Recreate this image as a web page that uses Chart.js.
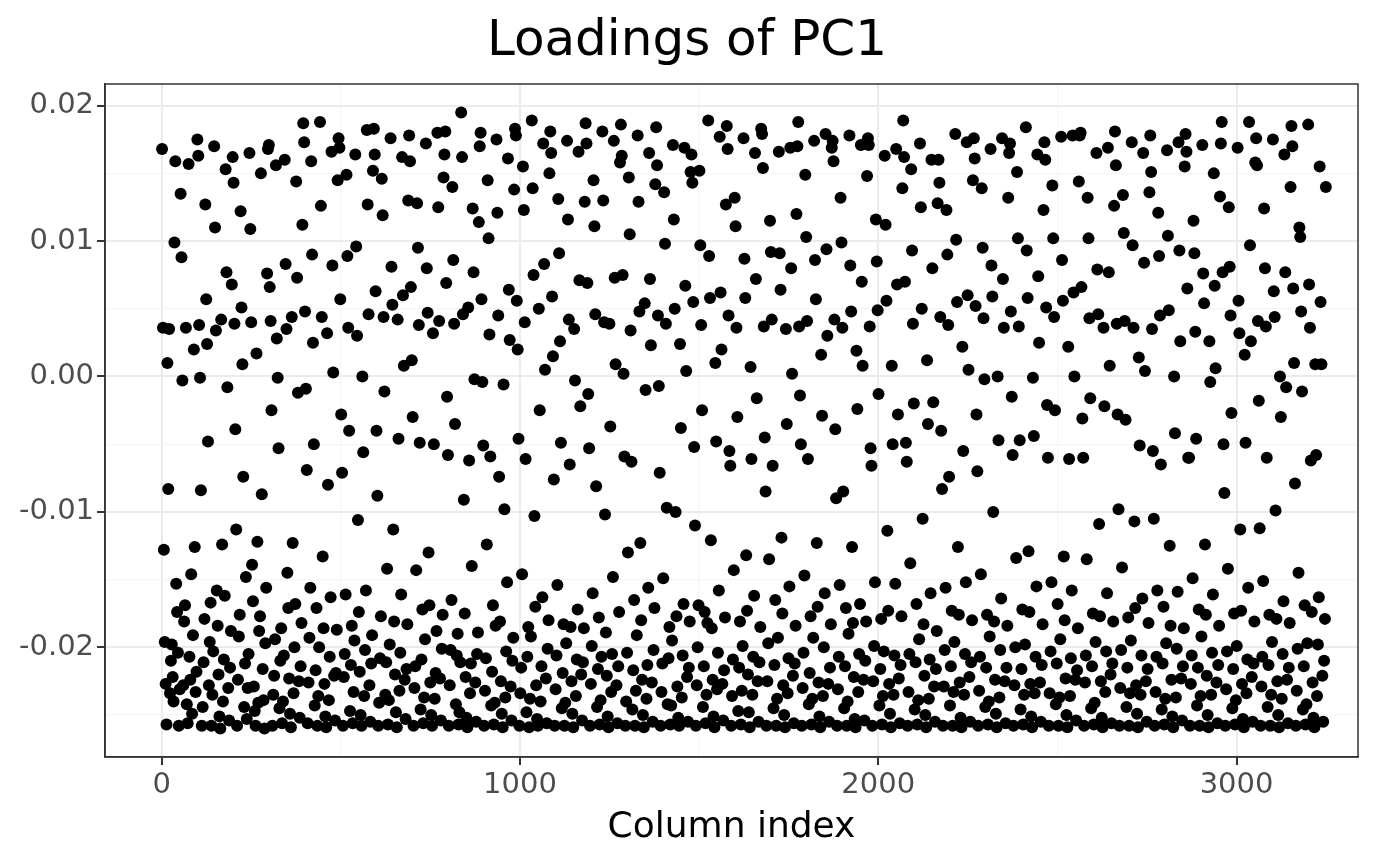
<!DOCTYPE html>
<html><head><meta charset="utf-8">
<script src="https://cdn.jsdelivr.net/npm/chart.js@4"></script>
<style>html,body{margin:0;background:#fff}#w{width:1400px;height:865px}</style>
</head><body><div id="w"><canvas id="c"></canvas></div>
<script>
// Loadings (x1000) read per block of ~98.5 column indices
const binWidth = 98.5;
const loadingsByBlock = [
"16.8 3.6 -12.8 -19.6 -22.7 -25.7 1.0 -8.3 3.5 -23.4 -21.0 -19.8 -22.2 -24.0 9.9 15.9 -15.3 -17.4 -20.4 -25.8 -23.1 13.5 8.8 -0.3 -22.8 -18.1 -16.9 3.6 -24.2 -25.6 15.7 -20.7 -22.4 -14.6 -24.9 -19.1 2.0 -12.6 -23.3 -21.8",
"17.5 16.3 3.8 -0.1 -8.4 -25.8 -24.4 -21.1 -17.9 12.7 5.7 2.4 -4.8 -22.8 -19.6 -16.7 -25.8 -23.5 -20.3 17.0 11.0 3.4 -15.8 -18.4 -22.0 -25.1 -26.0 4.2 -12.4 -24.0 -20.9 -16.2 15.3 7.7 -0.8 -23.0 -25.4 -21.5 -18.8 6.8",
"16.2 14.3 3.9 -3.9 -11.3 -25.8 -22.4 -19.2 -17.6 12.2 5.1 0.9 -7.4 -24.4 -21.2 -14.8 -25.3 -23.0 -20.5 16.5 10.9 4.0 -13.9 -16.6 -22.9 -24.7 -25.8 1.7 -12.2 -24.1 -18.8 -17.7 15.0 -8.7 -21.6 -23.9 -26.0 -19.7 -15.6 7.6",
"16.8 17.1 6.6 4.1 -2.5 -25.8 -23.5 -22.1 -19.4 15.6 2.8 -0.1 -5.3 -24.5 -21.0 -18.6 -25.6 -24.0 -20.6 16.0 8.3 3.5 -14.5 -17.1 -22.3 -24.9 -25.9 4.4 -12.3 -23.4 -20.0 -16.8 14.4 7.3 -1.2 -22.5 -25.2 -21.4 -18.2 11.2",
"18.7 17.3 4.8 -0.9 -6.9 -25.6 -22.6 -19.3 -15.6 15.9 9.0 2.5 -5.0 -24.3 -21.7 -17.1 -25.8 -23.6 -20.0 18.8 12.6 4.4 -13.3 -18.6 -22.7 -25.1 -25.9 3.2 -8.0 -23.9 -20.7 -16.3 16.6 8.2 0.3 -22.1 -25.4 -21.9 -18.7 14.5",
"17.6 16.9 5.7 -2.8 -7.1 -25.8 -22.2 -20.5 -16.1 14.9 8.9 3.6 -4.0 -24.7 -21.3 -18.4 -25.6 -23.3 -19.5 16.4 9.6 3.0 -10.6 -17.4 -21.8 -25.0 -25.8 0.0 -5.6 -23.6 -20.2 -15.8 18.2 12.7 4.6 -22.8 -25.5 -21.2 -19.1 15.2",
"18.3 16.4 6.3 -4.0 -8.8 -25.8 -24.1 -20.8 -17.7 14.6 11.9 4.4 -1.1 -23.5 -21.1 -14.2 -25.7 -23.9 -19.8 17.6 8.1 5.3 -11.3 -18.1 -22.0 -24.8 -25.9 4.2 -4.6 -23.2 -20.4 -16.1 16.2 6.0 0.8 -22.4 -25.3 -21.6 -18.3 13.0",
"17.8 15.9 6.6 1.2 -3.0 -25.8 -23.0 -21.4 -14.3 12.8 9.5 3.8 -4.9 -24.6 -20.9 -17.2 -25.6 -23.7 -19.4 17.2 8.0 4.7 -13.0 -16.9 -22.6 -25.0 -25.8 3.2 -5.0 -23.8 -21.9 -18.8 18.0 12.5 4.1 -22.3 -25.4 -20.1 -17.6 14.7",
"16.4 18.1 6.9 -1.5 -5.8 -25.8 -22.8 -20.2 -16.5 14.0 8.6 3.9 -3.5 -24.2 -20.6 -19.0 -25.7 -24.8 -21.1 19.5 16.2 4.6 -9.1 -17.5 -22.2 -25.2 -25.9 5.1 -6.2 -23.4 -21.2 -14.0 12.4 7.7 -0.2 -22.6 -25.5 -20.5 -18.9 11.4",
"17.0 18.0 5.7 -0.4 -5.1 -25.8 -23.2 -20.8 -12.4 14.5 10.2 3.1 -5.9 -24.3 -21.8 -16.9 -25.7 -24.1 -18.4 17.5 12.1 4.5 -7.4 -18.1 -22.5 -24.9 -25.9 -0.6 -9.8 -23.7 -20.3 -15.2 16.1 6.4 2.7 -22.9 -25.4 -21.0 -19.3 13.8",
"18.3 17.8 5.6 2.0 -4.6 -25.8 -23.4 -21.5 -14.6 15.5 12.3 4.0 -6.1 -24.8 -20.7 -18.5 -25.9 -23.8 -19.2 18.9 13.9 7.5 -10.3 -17.0 -22.8 -25.3 -25.8 5.0 -2.5 -24.0 -21.4 -16.3 17.2 8.3 0.5 -22.3 -25.6 -20.1 -18.0 15.0",
"18.1 16.5 5.9 1.5 -7.6 -25.8 -23.1 -20.6 -15.4 13.1 9.1 2.6 -4.9 -24.5 -21.9 -18.3 -25.8 -24.1 -19.7 17.4 11.6 4.2 -6.5 -18.5 -22.5 -24.9 -25.9 3.5 -0.3 -23.6 -20.9 -17.2 16.6 7.1 -2.2 -22.0 -25.4 -21.1 -18.6 12.9",
"18.7 17.2 6.9 -1.3 -5.3 -25.8 -22.7 -19.9 -16.0 14.5 11.1 4.6 -8.1 -24.4 -21.6 -17.8 -25.7 -23.9 -20.7 18.1 13.0 4.0 -10.2 -18.9 -22.1 -25.1 -25.9 3.9 -3.7 -23.3 -20.5 -14.8 17.4 7.3 0.9 -22.8 -25.6 -21.4 -17.4 15.8",
"18.6 16.3 7.5 0.2 -5.9 -25.8 -24.0 -20.4 -13.0 14.7 10.5 3.4 -6.3 -24.6 -21.7 -16.5 -25.8 -23.2 -19.1 17.8 12.9 4.8 -12.3 -18.0 -22.4 -25.0 -25.9 5.4 -1.0 -23.8 -21.3 -15.6 16.5 7.2 2.3 -22.6 -25.5 -20.2 -17.1 14.2",
"18.4 15.6 4.5 -0.7 -7.1 -25.8 -23.3 -21.2 -14.9 13.6 9.8 3.9 -9.7 -24.2 -20.8 -18.5 -25.7 -24.3 -19.5 17.1 11.6 5.0 -10.0 -17.7 -22.9 -25.2 -25.8 2.4 -3.8 -23.7 -20.6 -16.8 16.9 6.7 0.4 -22.2 -25.5 -21.5 -18.1 15.1",
"16.4 14.3 5.5 -5.2 -11.0 -25.8 -22.8 -20.0 -16.9 15.2 9.7 3.8 -2.5 -24.4 -21.4 -17.4 -25.6 -23.5 -18.2 18.9 8.9 5.8 -12.1 -18.6 -22.4 -25.1 -25.9 1.0 -4.8 -23.1 -20.4 -15.8 17.7 6.2 2.0 -22.7 -25.4 -21.7 -17.8 12.7",
"18.5 16.8 4.5 -5.5 -6.6 -25.8 -23.6 -20.9 -14.3 13.2 11.1 3.6 -3.0 -24.7 -21.5 -18.1 -25.7 -23.2 -19.9 17.6 8.7 5.8 -13.2 -17.3 -22.0 -24.8 -25.9 0.7 -6.1 -23.5 -20.7 -16.2 16.5 7.2 -1.6 -22.5 -25.5 -21.1 -18.5 18.3",
"17.9 15.4 3.7 -4.5 -8.5 -25.8 -22.5 -19.7 -13.5 11.5 9.2 4.2 -6.6 -24.5 -21.3 -16.5 -25.8 -23.8 -19.3 16.6 9.1 6.4 -11.9 -17.5 -22.8 -25.0 -25.9 3.5 -3.5 -23.4 -20.8 -15.5 16.9 8.0 0.2 -22.1 -25.6 -21.2 -18.4 12.0",
"17.0 18.8 3.7 -1.4 -5.0 -25.8 -23.0 -20.4 -14.7 14.9 10.3 4.1 -6.1 -24.2 -21.9 -17.7 -25.7 -23.8 -19.3 17.4 8.6 5.7 -12.3 -17.0 -22.6 -25.1 -25.9 1.6 -2.9 -23.6 -20.0 -16.0 17.9 9.4 3.0 -22.7 -25.5 -21.5 -18.3 16.9",
"17.4 15.9 4.2 -3.9 -9.0 -25.8 -23.1 -20.7 -15.4 13.2 9.9 3.6 -8.5 -24.5 -21.4 -17.1 -25.8 -24.0 -19.0 17.8 8.2 4.8 -12.6 -18.2 -22.2 -25.3 -25.9 1.9 -2.4 -23.3 -20.5 -16.8 17.1 7.0 0.8 -22.4 -25.4 -21.0 -18.1 14.8",
"17.6 17.1 3.7 -5.3 -6.6 -25.8 -22.5 -19.9 -15.2 11.6 8.5 4.9 -1.3 -24.3 -21.6 -17.9 -25.7 -23.6 -20.3 16.3 11.2 5.6 -11.4 -17.3 -22.7 -24.9 -25.9 0.8 -5.0 -23.5 -20.6 -15.3 16.8 6.8 -2.8 -22.3 -25.6 -21.3 -17.7 13.9",
"18.9 16.2 7.0 -4.9 -6.3 -25.8 -23.3 -20.5 -13.8 15.3 9.3 3.9 -2.0 -24.6 -21.1 -16.8 -25.7 -23.9 -19.4 17.2 12.5 5.0 -10.5 -18.3 -22.1 -25.0 -25.9 1.2 -3.5 -23.8 -20.9 -16.0 16.0 8.0 -1.9 -22.9 -25.5 -21.6 -18.8 12.8",
"16.0 14.3 4.4 -4.0 -8.3 -25.8 -22.9 -20.2 -15.6 12.3 9.0 3.8 -7.4 -24.3 -21.4 -17.3 -25.8 -23.3 -19.6 17.9 10.1 5.5 -12.6 -17.6 -22.6 -25.2 -25.9 2.2 -5.5 -23.5 -20.5 -15.2 17.3 6.0 0.5 -22.2 -25.5 -21.1 -18.0 14.5",
"17.6 16.1 5.2 -2.8 -7.0 -25.8 -23.2 -20.7 -14.6 13.9 9.5 4.3 -0.2 -24.4 -21.5 -17.6 -25.7 -24.0 -19.2 16.8 8.2 5.9 -10.0 -18.1 -22.4 -24.9 -25.9 0.0 -4.7 -23.7 -20.2 -16.4 17.6 7.2 3.6 -22.5 -25.6 -21.5 -18.4 13.2",
"16.5 17.2 4.8 -1.5 -5.8 -25.8 -22.8 -20.0 -13.4 15.1 10.2 3.7 -4.7 -24.6 -21.6 -17.2 -25.7 -23.5 -19.8 18.4 9.3 5.8 -12.9 -17.4 -22.7 -25.1 -25.9 -0.1 -4.4 -23.4 -20.7 -15.5 16.4 7.4 2.5 -22.6 -25.5 -21.3 -18.3 12.3",
"17.3 16.0 5.1 -2.1 -6.0 -25.8 -23.4 -20.3 -15.2 14.1 10.2 4.4 -2.5 -24.2 -21.2 -16.8 -25.8 -23.7 -19.4 17.7 8.6 5.6 -13.3 -18.0 -22.3 -25.0 -25.9 2.2 -6.1 -23.6 -20.8 -15.8 17.8 6.2 0.0 -22.4 -25.4 -21.7 -18.6 14.4",
"17.8 18.0 6.6 -3.1 -6.0 -25.8 -22.6 -20.6 -13.5 13.2 10.2 4.3 -1.6 -24.5 -21.4 -17.5 -25.7 -24.1 -19.6 16.5 7.9 4.6 -10.9 -17.7 -22.5 -25.2 -25.9 3.6 -2.2 -23.3 -20.3 -16.0 16.9 7.7 0.8 -22.0 -25.6 -21.2 -18.1 12.6",
"18.1 15.6 3.9 -2.8 -9.8 -25.8 -23.0 -20.2 -14.1 13.4 10.6 4.1 -3.2 -24.4 -21.5 -17.8 -25.8 -23.4 -19.5 17.3 9.7 3.6 -10.7 -17.1 -22.8 -24.9 -25.9 1.4 -5.1 -23.5 -20.6 -16.4 16.5 8.4 0.4 -22.5 -25.5 -21.6 -18.2 13.6",
"17.8 15.1 3.5 -5.5 -10.5 -25.8 -23.3 -20.7 -15.8 12.1 8.9 4.5 -6.5 -24.6 -21.2 -17.0 -25.7 -23.8 -19.7 16.7 10.4 4.9 -12.5 -18.4 -22.4 -25.1 -25.9 0.0 -4.2 -23.7 -20.1 -15.9 17.3 9.3 2.6 -22.3 -25.4 -21.4 -18.6 15.5",
"17.9 16.6 6.5 -6.0 -6.0 -25.8 -22.7 -20.6 -14.9 11.5 9.1 3.3 -4.6 -24.3 -21.5 -17.2 -25.8 -23.6 -19.2 17.1 7.6 5.4 -12.4 -17.6 -22.1 -25.0 -25.9 2.6 -0.4 -23.5 -20.4 -16.1 15.0 6.7 0.6 -22.6 -25.6 -21.3 -18.4 13.3",
"17.2 18.8 7.7 -5.0 -8.6 -25.8 -23.1 -20.3 -14.2 12.5 8.1 4.5 -2.7 -24.5 -21.6 -17.5 -25.7 -23.9 -19.9 16.9 5.6 3.2 -11.3 -17.3 -22.7 -25.3 -25.9 1.6 -4.9 -23.4 -20.9 -15.6 18.8 9.7 2.6 -22.2 -25.5 -21.2 -18.1 15.8",
"17.6 15.6 4.1 -1.8 -11.2 -25.8 -22.9 -20.7 -15.1 12.4 8.0 3.7 -6.0 -24.4 -21.3 -17.6 -25.8 -23.5 -19.6 17.5 6.3 4.4 -9.9 -17.9 -22.5 -25.0 -25.9 0.0 -3.0 -23.8 -20.5 -16.6 16.4 7.7 -0.8 -22.4 -25.6 -21.5 -18.2 14.0",
"18.5 17.0 6.5 1.0 -7.9 -25.8 -23.2 -20.1 -14.5 11.0 10.3 4.8 -1.1 -24.6 -21.4 -16.9 -25.7 -24.2 -19.7 18.6 6.8 3.6 -6.2 -17.4 -22.6 -25.2 -25.9 0.9 -5.8 -23.6 -19.8 -16.3 15.5 5.5 0.9 -22.1 -25.5 -21.0 -17.9 14.0"
];
const yTicks = [-0.02, -0.01, 0.00, 0.01, 0.02];
const yMinor = [-0.025, -0.015, -0.005, 0.005, 0.015];
const xTicks = [0, 1000, 2000, 3000];
const xMinor = [500, 1500, 2500];

const pts = [];
loadingsByBlock.forEach((s, b) => {
  const v = s.trim().split(/\s+/).map(Number);
  v.forEach((y, i) => pts.push({x: b * binWidth + (i + 0.5) * binWidth / v.length, y: y / 1000}));
});
const isMajor = (list, v) => list.some(t => Math.abs(t - v) < 1e-9);
const mk = (maj, min) => [...maj, ...min].sort((a, b) => a - b).map(v => ({value: v}));
new Chart(document.getElementById('c'), {
  type: 'scatter',
  data: {datasets: [{data: pts, backgroundColor: '#000', borderWidth: 0, pointRadius: 6}]},
  options: {
    responsive: true, maintainAspectRatio: false, animation: false,
    layout: {padding: {left: 16, right: 42, top: 8, bottom: 12}},
    plugins: {legend: {display: false}, tooltip: {enabled: false},
      title: {display: true, text: 'Loadings of PC1', color: '#000', font: {size: 50, family: 'DejaVu Sans', weight: 'normal'}, padding: {top: 4, bottom: 12}}},
    scales: {
      x: {type: 'linear', min: -158, max: 3339,
        afterBuildTicks: s => { s.ticks = mk(xTicks, xMinor); },
        ticks: {autoSkip: false, maxRotation: 0, color: '#4d4d4d', font: {size: 29, family: 'DejaVu Sans'},
          callback: v => isMajor(xTicks, v) ? String(v) : ''},
        grid: {color: c => isMajor(xTicks, c.tick.value) ? '#ebebeb' : '#f5f5f5', lineWidth: c => isMajor(xTicks, c.tick.value) ? 2 : 1.2, tickColor: c => isMajor(xTicks, c.tick.value) ? '#333' : 'rgba(0,0,0,0)', tickLength: 8},
        border: {color: '#333', width: 1.5},
        title: {display: true, text: 'Column index', color: '#000', font: {size: 36, family: 'DejaVu Sans'}, padding: {top: 0}}},
      y: {min: -0.0281, max: 0.0216,
        afterBuildTicks: s => { s.ticks = mk(yTicks, yMinor); },
        ticks: {autoSkip: false, color: '#4d4d4d', font: {size: 29, family: 'DejaVu Sans'},
          callback: v => isMajor(yTicks, v) ? v.toFixed(2) : ''},
        grid: {color: c => isMajor(yTicks, c.tick.value) ? '#ebebeb' : '#f5f5f5', lineWidth: c => isMajor(yTicks, c.tick.value) ? 2 : 1.2, tickColor: c => isMajor(yTicks, c.tick.value) ? '#333' : 'rgba(0,0,0,0)', tickLength: 8},
        border: {color: '#333', width: 1.5}}
    }
  },
  plugins: [{id: 'frame', afterDraw(ch) {const a = ch.chartArea, x = ch.ctx; x.save(); x.strokeStyle = '#333'; x.lineWidth = 1.5; x.strokeRect(a.left, a.top, a.right - a.left, a.bottom - a.top); x.restore();}}]
});
</script></body></html>
